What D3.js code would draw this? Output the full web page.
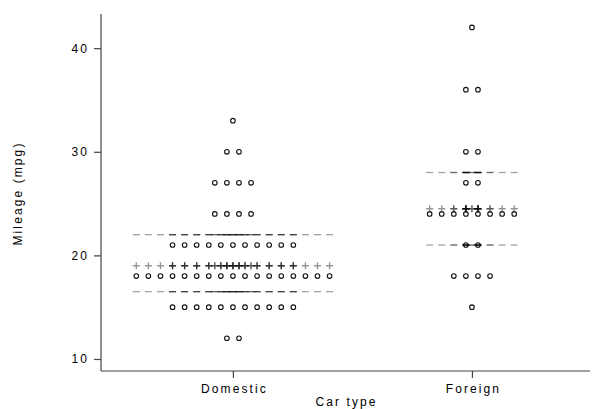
<!DOCTYPE html>
<html>
<head>
<meta charset="utf-8">
<script src="https://cdn.jsdelivr.net/npm/d3@7"></script>
<style>
  html, body { margin: 0; padding: 0; background: #fff; }
  svg { display: block; }
  text { font-family: "Liberation Sans", Arial, Helvetica, sans-serif; fill: #000; }
</style>
</head>
<body>
<svg id="chart" width="592" height="409"></svg>
<script>
// ---- data ----
const categories = ["Domestic", "Foreign"];
const domesticMpg   = [12, 15, 18, 21, 24, 27, 30, 33];
const domesticCount = [2, 11, 17, 11, 4, 4, 2, 1];
const foreignMpg    = [15, 18, 21, 24, 27, 30, 36, 42];
const foreignCount  = [1, 4, 2, 8, 2, 2, 2, 1];
const medians        = [19, 24.5];
const lowerQuartiles = [16.5, 21];
const upperQuartiles = [22, 28];
const yTicks = [10, 20, 30, 40];

// ---- layout ----
const svg = d3.select("#chart");
const x = d3.scaleLinear().domain([-0.552, 1.494]).range([101, 590]);
const y = d3.scaleLinear().domain([8.84, 43.3]).range([371, 14]);
const dotStep = 12.08;
const axisColor = "#444";
const fontSize = 12, letterSp = "2.1px";

const groups = [
  { idx: 0, mpg: domesticMpg, count: domesticCount },
  { idx: 1, mpg: foreignMpg, count: foreignCount }
];

// ---- axes ----
const yAxis = d3.axisLeft(y).tickValues(yTicks).tickSize(7).tickPadding(5).tickFormat(d3.format("d"));
const gy = svg.append("g").attr("transform", `translate(${x.range()[0]},0)`).call(yAxis);
const xAxis = d3.axisBottom(x).tickValues([0, 1]).tickSize(7).tickPadding(6).tickFormat(d => categories[d]);
const gx = svg.append("g").attr("transform", `translate(0,${y.range()[0]})`).call(xAxis);
[gx, gy].forEach(g => {
  g.select(".domain").attr("stroke", axisColor).attr("stroke-width", 1.2)
    .attr("d", g === gy ? `M0,${y.range()[1]}V${y.range()[0]}` : `M${x.range()[0]},0H${x.range()[1]}`);
  g.selectAll(".tick line").attr("stroke", axisColor).attr("stroke-width", 1.2);
  g.selectAll(".tick text").attr("font-size", fontSize).attr("letter-spacing", letterSp)
    .attr("font-family", "Liberation Sans, Arial, sans-serif").attr("fill", "#000");
});
gx.selectAll(".tick text").attr("dx", "1px");

svg.append("text").attr("x", (x.range()[0] + x.range()[1]) / 2 + 1).attr("y", 406)
  .attr("text-anchor", "middle").attr("font-size", fontSize).attr("letter-spacing", letterSp).text("Car type");
svg.append("text").attr("transform", `translate(22,${(y.range()[0] + y.range()[1]) / 2 + 1}) rotate(-90)`)
  .attr("text-anchor", "middle").attr("font-size", fontSize).attr("letter-spacing", letterSp).text("Mileage (mpg)");

// ---- marker lines (median / quartiles), drawn at every dot position ----
const plot = svg.append("g");
function rowOffsets(n) { return d3.range(n).map(i => i - (n - 1) / 2); }

groups.forEach(g => {
  const cx = x(g.idx);
  const positions = [];
  g.count.forEach(n => rowOffsets(n).forEach(o => positions.push(o)));
  [lowerQuartiles[g.idx], upperQuartiles[g.idx]].forEach(v => {
    plot.append("g").selectAll("line").data(positions).join("line")
      .attr("x1", o => cx + o * dotStep - 3.5).attr("x2", o => cx + o * dotStep + 3.5)
      .attr("y1", y(v)).attr("y2", y(v))
      .attr("stroke", "#000").attr("stroke-opacity", 0.36).attr("stroke-width", 1.3);
  });
  plot.append("g").selectAll("path").data(positions).join("path")
    .attr("d", o => {
      const px = cx + o * dotStep, py = y(medians[g.idx]);
      return `M${px - 3.5},${py}H${px + 3.5}M${px},${py - 3.5}V${py + 3.5}`;
    })
    .attr("fill", "none").attr("stroke", "#000").attr("stroke-opacity", 0.42).attr("stroke-width", 1.3);
});

// ---- dots ----
groups.forEach(g => {
  const cx = x(g.idx);
  const dots = [];
  g.mpg.forEach((v, k) => rowOffsets(g.count[k]).forEach(o => dots.push({ v, o })));
  plot.append("g").selectAll("circle").data(dots).join("circle")
    .attr("cx", d => cx + d.o * dotStep).attr("cy", d => y(d.v)).attr("r", 2.3)
    .attr("fill", "none").attr("stroke", "#111").attr("stroke-width", 1.1);
});
</script>
</body>
</html>
